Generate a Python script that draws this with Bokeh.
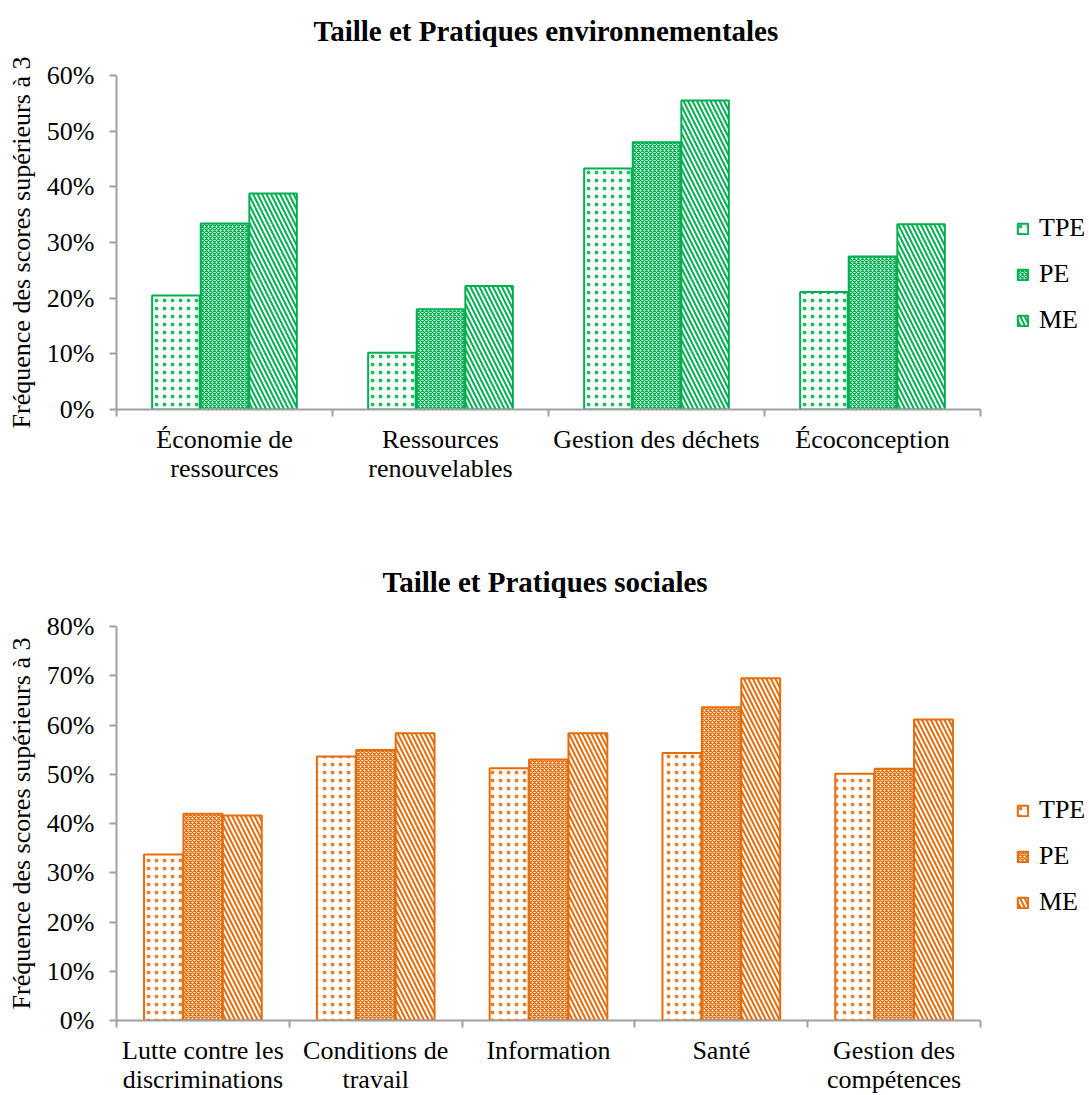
from bokeh.plotting import figure
from bokeh.models import (Range1d, FixedTicker, NumeralTickFormatter, Legend, LegendItem,
                          ColumnDataSource, Title)
from bokeh.layouts import column
from bokeh.embed import file_html
from bokeh.resources import INLINE

# ---------------- data ----------------
series = ["TPE", "PE", "ME"]

env_title = "Taille et Pratiques environnementales"
env_categories = ["Économie de\nressources", "Ressources\nrenouvelables", "Gestion des déchets", "Écoconception"]
env_tpe = [0.205, 0.102, 0.433, 0.211]
env_pe = [0.334, 0.180, 0.480, 0.275]
env_me = [0.388, 0.222, 0.555, 0.333]
env_ticks = [0.0, 0.1, 0.2, 0.3, 0.4, 0.5, 0.6]

soc_title = "Taille et Pratiques sociales"
soc_categories = ["Lutte contre les\ndiscriminations", "Conditions de\ntravail", "Information", "Santé", "Gestion des\ncompétences"]
soc_tpe = [0.337, 0.536, 0.512, 0.543, 0.501]
soc_pe = [0.420, 0.549, 0.530, 0.636, 0.511]
soc_me = [0.416, 0.583, 0.583, 0.695, 0.611]
soc_ticks = [0.0, 0.1, 0.2, 0.3, 0.4, 0.5, 0.6, 0.7, 0.8]

y_label = "Fréquence des scores supérieurs à 3"

FONT = "Liberation Serif"
GREEN = "#00B050"
ORANGE = "#E46C0A"
AXIS_GREY = "#A0A0A0"

AXIS_PX = 864      # pixel length of the category axis
FRAME_PX = 968     # frame extends to the right to host the legend

patterns = [
    dict(hatch_pattern="dot", hatch_scale=8, hatch_weight=1.0, hatch_alpha=0.85),
    dict(hatch_pattern="diagonal_cross", hatch_scale=4, hatch_weight=1.4),
    dict(hatch_pattern="left_diagonal_line", hatch_scale=9, hatch_weight=2.0),
]


def make_chart(title, title_offset, cats, vals, ticks, color, frame_h, border_top,
               border_bottom, bar_w, offset, legend_y, spacer_px):
    n = len(cats)
    x_end = n * FRAME_PX / AXIS_PX
    p = figure(frame_width=FRAME_PX, frame_height=frame_h, output_backend="svg",
               toolbar_location=None,
               x_range=Range1d(0, x_end), y_range=Range1d(0, ticks[-1]),
               min_border_left=116, min_border_right=4,
               min_border_top=border_top, min_border_bottom=border_bottom,
               title_location=None)
    # spacer between title and frame, then the title itself
    p.add_layout(Title(text=" ", text_font_size=f"{spacer_px}px", standoff=0), "above")
    p.add_layout(Title(text=title, align="left", offset=title_offset, text_font=FONT,
                       text_font_size="29px", text_font_style="bold",
                       text_color="black"), "above")
    p.outline_line_color = None
    p.xgrid.grid_line_color = None
    p.ygrid.grid_line_color = None

    items = []
    for i, (name, v, pat) in enumerate(zip(series, vals, patterns)):
        xs = [k + 0.5 + (i - 1) * offset for k in range(n)]
        src = ColumnDataSource(dict(x=xs, top=v))
        r = p.vbar(x="x", top="top", bottom=0, width=bar_w, source=src,
                   fill_color="white", line_color=color, line_width=2,
                   hatch_color=color, **pat)
        items.append(LegendItem(label=name, renderers=[r]))

    # x axis
    xa = p.xaxis[0]
    xa.bounds = (0, n)
    xa.ticker = FixedTicker(ticks=[k + 0.5 for k in range(n)], minor_ticks=list(range(n + 1)))
    xa.major_label_overrides = {k + 0.5: c for k, c in enumerate(cats)}
    xa.major_tick_out = 0
    xa.major_tick_in = 0
    xa.minor_tick_out = 7
    xa.minor_tick_in = 0
    xa.minor_tick_line_color = AXIS_GREY
    xa.minor_tick_line_width = 2
    xa.axis_line_color = AXIS_GREY
    xa.axis_line_width = 2
    xa.major_label_text_font = FONT
    xa.major_label_text_font_size = "26px"
    xa.major_label_text_color = "black"
    xa.major_label_text_line_height = 1.0
    xa.major_label_standoff = 8

    # y axis
    ya = p.yaxis[0]
    ya.ticker = FixedTicker(ticks=ticks)
    ya.formatter = NumeralTickFormatter(format="0%")
    ya.major_tick_out = 7
    ya.major_tick_in = 0
    ya.minor_tick_line_color = None
    ya.major_tick_line_color = AXIS_GREY
    ya.major_tick_line_width = 2
    ya.axis_line_color = AXIS_GREY
    ya.axis_line_width = 2
    ya.major_label_text_font = FONT
    ya.major_label_text_font_size = "26px"
    ya.major_label_text_color = "black"
    ya.major_label_standoff = 15
    ya.axis_label = y_label
    ya.axis_label_text_font = FONT
    ya.axis_label_text_font_size = "26px"
    ya.axis_label_text_font_style = "normal"
    ya.axis_label_text_color = "black"
    ya.axis_label_standoff = 8

    legend = Legend(items=items, location=(900, legend_y), orientation="vertical",
                    label_text_font=FONT, label_text_font_size="26px",
                    label_text_color="black", glyph_width=13, glyph_height=13,
                    label_standoff=10, label_height=26, spacing=16,
                    padding=0, margin=0, border_line_color=None,
                    background_fill_alpha=0)
    p.add_layout(legend, "center")
    return p


p1 = make_chart(env_title, 197, env_categories, [env_tpe, env_pe, env_me], env_ticks, GREEN,
                frame_h=334, border_top=75, border_bottom=111,
                bar_w=0.22, offset=0.225, legend_y=74, spacer_px=20)
p2 = make_chart(soc_title, 266, soc_categories, [soc_tpe, soc_pe, soc_me], soc_ticks, ORANGE,
                frame_h=394, border_top=106, border_bottom=75,
                bar_w=0.225, offset=0.228, legend_y=103, spacer_px=20)

layout = column(p1, p2, spacing=0)
open("out.html", "w").write(file_html(layout, INLINE))
